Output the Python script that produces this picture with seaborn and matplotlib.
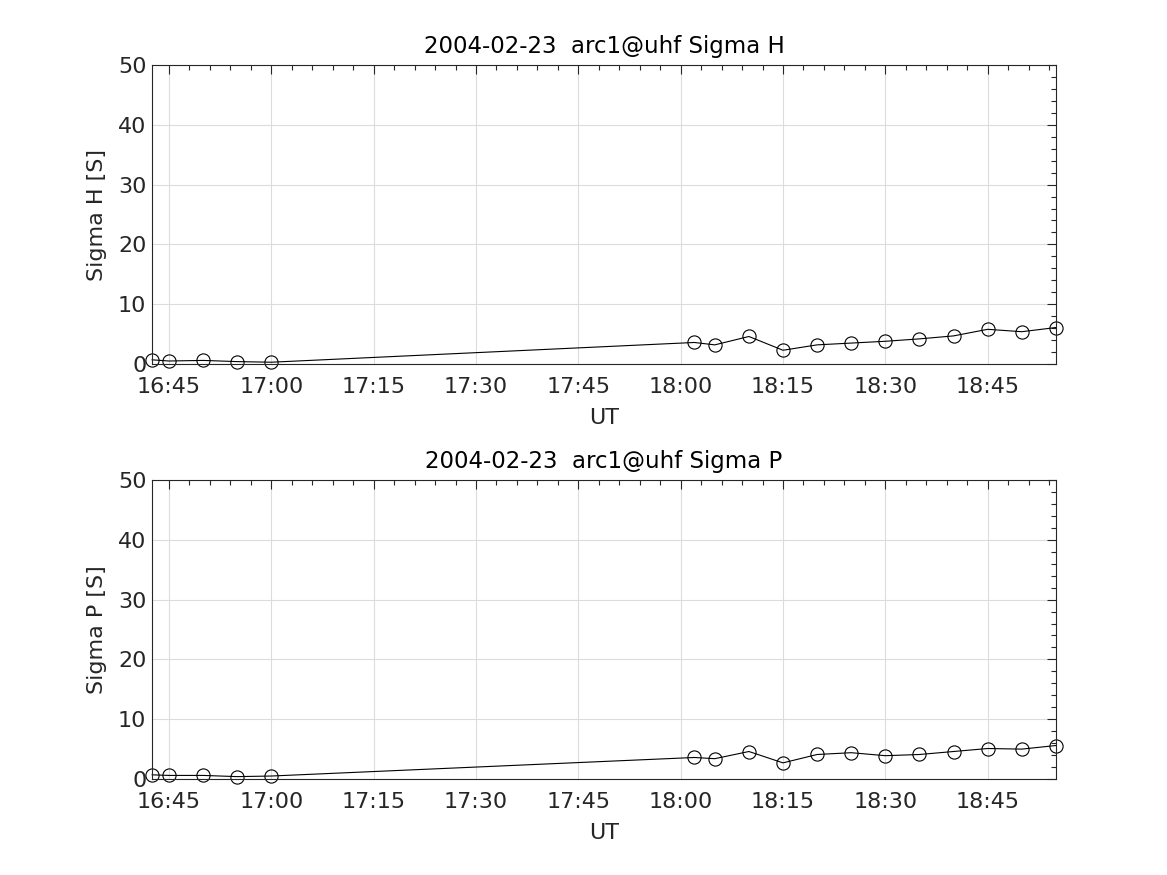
import pandas as pd
import matplotlib
matplotlib.use("Agg")
import matplotlib.pyplot as plt
import matplotlib.dates as mdates
from matplotlib.ticker import MultipleLocator
import seaborn as sns

# times (UT) on 2004-02-23
times = ["16:42:30", "16:45:00", "16:50:00", "16:55:00", "17:00:00",
         "18:02:00", "18:05:00", "18:10:00", "18:15:00", "18:20:00", "18:25:00",
         "18:30:00", "18:35:00", "18:40:00", "18:45:00", "18:50:00", "18:55:00"]
sigma_h = [0.7, 0.5, 0.6, 0.4, 0.3,
           3.6, 3.2, 4.6, 2.3, 3.2, 3.5, 3.8, 4.2, 4.7, 5.8, 5.4, 6.1]
sigma_p = [0.7, 0.6, 0.6, 0.4, 0.5,
           3.6, 3.4, 4.6, 2.7, 4.1, 4.4, 3.9, 4.1, 4.6, 5.1, 5.0, 5.6]

date = "2004-02-23"
t = pd.to_datetime([date + " " + s for s in times], format="%Y-%m-%d %H:%M:%S")
data = pd.DataFrame({"UT": t, "Sigma H": sigma_h, "Sigma P": sigma_p})

sns.set_style("white")
plt.rcParams['font.family'] = ['DejaVu Sans']

fig = plt.figure(figsize=(11.67, 8.75), dpi=100)
ax1 = fig.add_axes([0.1302, 0.584, 0.7746, 0.3417])
ax2 = fig.add_axes([0.1302, 0.1097, 0.7746, 0.3417])

xmin = pd.Timestamp(date + " 16:42:30")
xmax = pd.Timestamp(date + " 18:55:00")

for ax, col, label in [(ax1, "Sigma H", "Sigma H [S]"), (ax2, "Sigma P", "Sigma P [S]")]:
    sns.lineplot(data=data, x="UT", y=col, ax=ax, color="black", linewidth=0.8,
                 marker="o", markersize=9.5, markerfacecolor="none",
                 markeredgecolor="black", markeredgewidth=0.8, clip_on=False)
    ax.set_xlim(xmin, xmax)
    ax.set_ylim(0, 50)
    ax.xaxis.set_major_locator(mdates.MinuteLocator(byminute=[0, 15, 30, 45]))
    ax.xaxis.set_minor_locator(mdates.MinuteLocator(byminute=range(0, 60, 3)))
    ax.xaxis.set_major_formatter(mdates.DateFormatter("%H:%M"))
    ax.yaxis.set_major_locator(MultipleLocator(10))
    ax.yaxis.set_minor_locator(MultipleLocator(2))
    ax.grid(True, which="major", color="#dcdcdc", linewidth=0.8)
    ax.tick_params(which="both", direction="in", top=True, right=True,
                   colors="#262626", labelsize=16, width=0.8)
    ax.tick_params(which="major", length=6.5)
    ax.tick_params(which="minor", length=3.5)
    ax.tick_params(axis="x", which="major", pad=9.5)
    ax.tick_params(axis="y", which="major", pad=4)
    for s in ax.spines.values():
        s.set_color("#262626")
        s.set_linewidth(0.8)
    ax.set_xlabel("UT", fontsize=16, color="#262626", labelpad=8)
    ax.set_ylabel(label, fontsize=16, color="#262626", labelpad=8)
    ax.set_title(date + "  arc1@uhf " + col, fontsize=16.5, color="black", pad=9)

fig.savefig("out.png", dpi=100)
